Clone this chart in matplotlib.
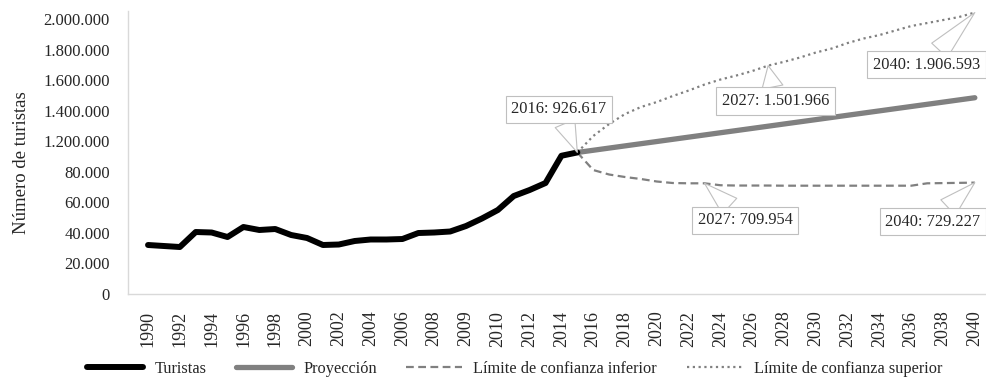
#!/usr/bin/env python3
# -*- coding: utf-8 -*-

"""Turistas 1990-2015 y proyeccion hasta 2040 con limites de confianza"""

import numpy as np
import matplotlib
matplotlib.use('Agg')
import matplotlib.pyplot as plt

plt.rcParams['font.family'] = ['Liberation Serif', 'DejaVu Serif']

# Categorias del eje x (las vacias no llevan etiqueta)
periodos = [str(y) for y in range(1990, 2009)] + ['', '2009', '', '2010'] + \
    [str(y) for y in range(2011, 2041)]

# Serie historica (indices 0..27)
turistas = [320800, 314200, 307600, 405800, 402600, 373100, 438600, 419000,
            425400, 386200, 366600, 320800, 324000, 347000, 356800, 356800,
            360000, 399200, 402600, 409100, 445100, 494200, 549800, 641400,
            680800, 726600, 905000, 926600]

# Proyeccion y limites (indices 27..52)
proyeccion = [926600, 940900, 955300, 969600, 983900, 998200, 1012600,
              1026900, 1041200, 1055600, 1069900, 1084200, 1098500, 1112900,
              1127200, 1141500, 1155800, 1170200, 1184500, 1198800, 1213200,
              1227500, 1241800, 1256100, 1270500, 1284800]
lim_inferior = [926600, 811600, 782200, 765800, 752800, 736400, 726600,
                724600, 724600, 712000, 710000, 710000, 710000, 709000,
                709000, 709000, 709000, 709000, 709000, 709000, 709000,
                709000, 724600, 726000, 727500, 729200]
lim_superior = [926600, 1034200, 1112800, 1178200, 1224000, 1256800, 1296000,
                1332000, 1371200, 1404000, 1430200, 1459600, 1495000, 1520000,
                1548000, 1580800, 1607000, 1643000, 1672400, 1695200, 1724800,
                1754200, 1773800, 1793400, 1813100, 1842600]

ytick_vals = [0, 200000, 400000, 600000, 800000, 1000000, 1200000, 1400000,
              1600000, 1800000]
ytick_labels = ['0', '20.000', '40.000', '60.000', '80.000', '1.200.000',
                '1.400.000', '1.600.000', '1.800.000', '2.000.000']

# Etiquetas de datos: (texto, serie, posicion en la serie, posicion de la caja)
etiquetas = [
    ('2016: 926.617', 'turistas', 27, (25.85, 1209000)),
    ('2027: 1.501.966', 'superior', 12, (39.45, 1262000)),
    ('2040: 1.906.593', 'superior', 25, (48.95, 1502000)),
    ('2027: 709.954', 'inferior', 8, (37.55, 482400)),
    ('2040: 729.227', 'inferior', 25, (49.37, 473200)),
]

x_hist = np.arange(len(turistas))
x_proy = np.arange(len(turistas) - 1, len(turistas) - 1 + len(proyeccion))

fig = plt.figure(figsize=(9.86, 3.86), dpi=100)
ax = fig.add_axes([128 / 986, 1 - 294 / 386, (985 - 128) / 986, (294 - 11.4) / 386])

ax.plot(x_proy, lim_inferior, color='#808080', linewidth=1.6,
        linestyle=(0, (3.5, 2)), label='Límite de confianza inferior', zorder=2)
ax.plot(x_proy, lim_superior, color='#808080', linewidth=1.6,
        linestyle=(0, (1, 1.6)), label='Límite de confianza superior', zorder=2)
ax.plot(x_proy, proyeccion, color='#808080', linewidth=3.8,
        solid_capstyle='round', label='Proyección', zorder=3)
ax.plot(x_hist, turistas, color='black', linewidth=4.3,
        solid_capstyle='round', solid_joinstyle='round', label='Turistas', zorder=4)

series = {'turistas': (x_hist, turistas), 'superior': (x_proy, lim_superior),
          'inferior': (x_proy, lim_inferior)}
for texto, nombre, i, pos in etiquetas:
    xs, ys = series[nombre]
    ax.annotate(texto, xy=(xs[i], ys[i]), xytext=pos, textcoords='data',
                ha='center', va='center', fontsize=11.8, color='#262626',
                bbox=dict(boxstyle='square,pad=0.35', fc='white', ec='#bfbfbf', lw=0.8),
                arrowprops=dict(arrowstyle='wedge,tail_width=1.3', fc='white',
                                ec='#bfbfbf', lw=0.8, shrinkA=0, shrinkB=0),
                zorder=5)

ax.set_xlim(-1.26, 52.64)
ax.set_ylim(0, 1850000)
ax.set_xticks(np.arange(0, len(periodos), 2))
ax.set_xticklabels(periodos[::2], rotation=90, fontsize=13, color='#262626')
ax.set_yticks(ytick_vals)
ax.set_yticklabels(ytick_labels, fontsize=12, color='#262626')
ax.tick_params(axis='both', length=0)
ax.tick_params(axis='y', pad=13)
ax.tick_params(axis='x', pad=12)
ax.set_ylabel('Número de turistas', fontsize=13.5, color='#262626')
ax.yaxis.set_label_coords(-0.114, 0.464)

for side in ['top', 'right']:
    ax.spines[side].set_visible(False)
for side in ['left', 'bottom']:
    ax.spines[side].set_color('#d9d9d9')
    ax.spines[side].set_linewidth(1)

handles, labels = ax.get_legend_handles_labels()
orden = [3, 2, 0, 1]
fig.legend([handles[i] for i in orden], [labels[i] for i in orden],
           loc='center', bbox_to_anchor=(0.522, 1 - 369 / 386), ncol=4,
           frameon=False, fontsize=11.8, handlelength=3.4, handletextpad=0.7,
           columnspacing=1.8, labelcolor='#262626')

fig.savefig('out.png', dpi=100)
